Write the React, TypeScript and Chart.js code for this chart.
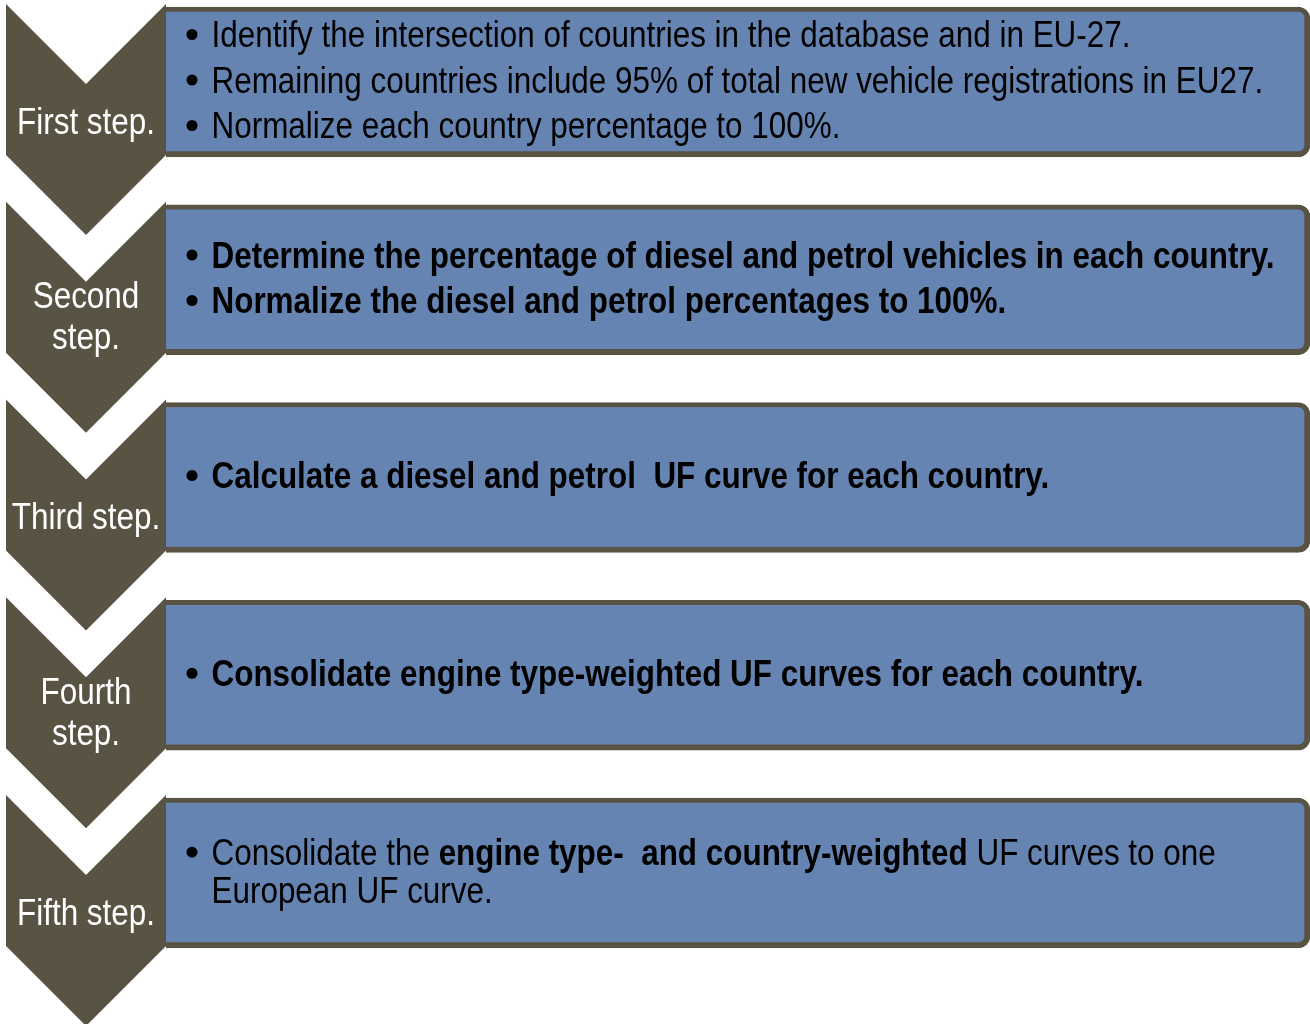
import { useEffect, useRef } from "react";
import { Chart, registerables } from "chart.js";

Chart.register(...registerables);

type Run = { t: string; b: boolean };
type Line = Run[];
type Paragraph = Line[];

// Step names shown inside the chevrons (one entry per text line)
const stepLabelLines: string[][] = [
  ["First step."],
  ["Second", "step."],
  ["Third step."],
  ["Fourth", "step."],
  ["Fifth step."],
];

// Bullet texts of each step
const step1Text: Paragraph[] = [
  [[{ t: "Identify the intersection of countries in the database and in EU-27.", b: false }]],
  [[{ t: "Remaining countries include 95% of total new vehicle registrations in EU27.", b: false }]],
  [[{ t: "Normalize each country percentage to 100%.", b: false }]],
];
const step2Text: Paragraph[] = [
  [[{ t: "Determine the percentage of diesel and petrol vehicles in each country.", b: true }]],
  [[{ t: "Normalize the diesel and petrol percentages to 100%.", b: true }]],
];
const step3Text: Paragraph[] = [
  [[{ t: "Calculate a diesel and petrol  UF curve for each country.", b: true }]],
];
const step4Text: Paragraph[] = [
  [[{ t: "Consolidate engine type-weighted UF curves for each country.", b: true }]],
];
const step5Text: Paragraph[] = [
  [
    [
      { t: "Consolidate the ", b: false },
      { t: "engine type-  and country-weighted", b: true },
      { t: " UF curves to one", b: false },
    ],
    [{ t: "European UF curve.", b: false }],
  ],
];
const stepTexts: Paragraph[][] = [step1Text, step2Text, step3Text, step4Text, step5Text];

const stepIndex = [0, 1, 2, 3, 4];

const DARK = "#595344";
const BLUE = "#6584B2";
const FONT = "'Liberation Sans', Arial, sans-serif";
const FONT_SIZE = 36;
const H_SCALE = 0.873;

function drawScaledText(ctx: CanvasRenderingContext2D, t: string, x: number, y: number) {
  ctx.save();
  ctx.translate(x, y);
  ctx.scale(H_SCALE, 1);
  ctx.fillText(t, 0, 0);
  ctx.restore();
  return ctx.measureText(t).width * H_SCALE;
}

const diagramPlugin = {
  id: "diagram",
  beforeDatasetsDraw(chart: any) {
    const ctx: CanvasRenderingContext2D = chart.ctx;
    const xs = chart.scales.x;
    const ys = chart.scales.y;
    ctx.save();
    ctx.fillStyle = DARK;
    stepIndex.forEach((i) => {
      const c = ys.getPixelForValue(i);
      const l = xs.getPixelForValue(6);
      const r = xs.getPixelForValue(166);
      const m = (l + r) / 2;
      const hw = (r - l) / 2;
      const top = c - 78;
      const sideEnd = c + 73;
      ctx.beginPath();
      ctx.moveTo(l, top);
      ctx.lineTo(m, top + hw);
      ctx.lineTo(r, top);
      ctx.lineTo(r, sideEnd);
      ctx.lineTo(m, sideEnd + hw);
      ctx.lineTo(l, sideEnd);
      ctx.closePath();
      ctx.fill();
    });
    ctx.restore();
  },
  afterDatasetsDraw(chart: any) {
    const ctx: CanvasRenderingContext2D = chart.ctx;
    const xs = chart.scales.x;
    const ys = chart.scales.y;
    ctx.save();
    ctx.textBaseline = "alphabetic";
    const capHalf = 0.716 * FONT_SIZE / 2;

    // chevron labels
    stepIndex.forEach((i) => {
      const c = ys.getPixelForValue(i);
      const lines = stepLabelLines[i];
      const mid = xs.getPixelForValue(86);
      const lh = 41;
      const blockCenter = c + 39 - 3 * (lines.length - 1);
      ctx.fillStyle = "#ffffff";
      ctx.font = `${FONT_SIZE}px ${FONT}`;
      ctx.textAlign = "center";
      lines.forEach((ln, k) => {
        const lc = blockCenter + (k - (lines.length - 1) / 2) * lh;
        drawScaledText(ctx, ln, mid, lc + capHalf);
      });
    });

    // box texts
    ctx.textAlign = "left";
    stepIndex.forEach((i) => {
      const c = ys.getPixelForValue(i);
      const paras = stepTexts[i];
      const centers: { y: number; first: boolean; line: Line }[] = [];
      let y = 0;
      paras.forEach((p, pi) => {
        p.forEach((ln, li) => {
          if (pi > 0 || li > 0) y += li === 0 ? 45.5 : 37.7;
          centers.push({ y, first: li === 0, line: ln });
        });
      });
      const shift = c - 2 - y / 2;
      const textX = xs.getPixelForValue(211.5);
      const bulletX = xs.getPixelForValue(192);
      centers.forEach(({ y: ly, first, line }) => {
        const lc = ly + shift;
        ctx.fillStyle = "#000000";
        if (first) {
          ctx.beginPath();
          ctx.arc(bulletX, lc, 5.5, 0, Math.PI * 2);
          ctx.fill();
        }
        let x = textX;
        line.forEach((run) => {
          ctx.font = `${run.b ? "bold " : ""}${FONT_SIZE}px ${FONT}`;
          x += drawScaledText(ctx, run.t, x, lc + capHalf);
        });
      });
    });
    ctx.restore();
  },
};

export default function App() {
  const ref = useRef<HTMLCanvasElement | null>(null);
  useEffect(() => {
    document.body.style.margin = "0";
    document.body.style.overflow = "hidden";
    const canvas = ref.current;
    if (!canvas) return;
    const period = 197.75;
    const firstCenter = 82;
    const yMin = -firstCenter / period;
    const yMax = yMin + 1024 / period;
    const chart = new Chart(canvas, {
      type: "bar",
      data: {
        datasets: [
          {
            data: stepIndex.map((i) => ({ x: [166, 1310], y: i })) as any,
            backgroundColor: BLUE,
            borderColor: DARK,
            borderWidth: { top: 5, right: 6, bottom: 6, left: 0 } as any,
            borderSkipped: "left",
            borderRadius: { topLeft: 0, bottomLeft: 0, topRight: 12, bottomRight: 12 },
            barThickness: 150,
          } as any,
        ],
      },
      options: {
        indexAxis: "y",
        animation: false,
        responsive: false,
        devicePixelRatio: 1,
        layout: { padding: 0 },
        plugins: { legend: { display: false }, tooltip: { enabled: false } },
        scales: {
          x: { type: "linear", display: false, min: 0, max: 1310, offset: false },
          y: { type: "linear", display: false, min: yMin, max: yMax, reverse: true, offset: false },
        },
      },
      plugins: [diagramPlugin],
    });
    return () => chart.destroy();
  }, []);
  return <canvas ref={ref} width={1310} height={1024} style={{ display: "block", width: 1310, height: 1024 }} />;
}
